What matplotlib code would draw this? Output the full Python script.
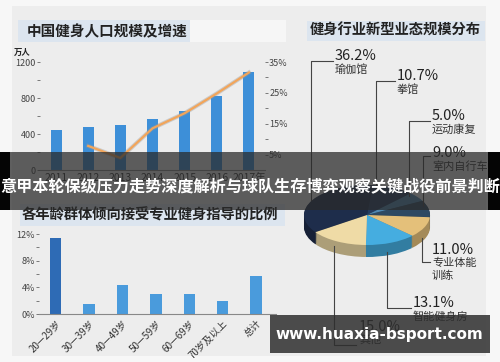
import numpy as np
import matplotlib
matplotlib.use('Agg')
import matplotlib.pyplot as plt
from matplotlib.patches import Rectangle

plt.rcParams['font.family'] = ['Noto Sans CJK SC', 'DejaVu Sans']

W, H = 500, 362

# top-left: fitness population and growth
years = ['2011', '2012', '2013', '2014', '2015', '2016', '2017年']
pop = [444, 478, 496, 563, 659, 819, 1089]
growth_years = [1, 2, 3, 4, 5, 6]
growth = [7.8, 3.9, 13.5, 18.4, 24.8, 31.6]

# right: new business formats
fmt_names = ['瑜伽馆', '拳馆', '运动康复', '室内自行车', '专业体能\n训练', '智能健身房', '其他']
fmt_share = [36.2, 10.7, 5.0, 9.0, 11.0, 13.1, 15.0]
fmt_colors = ['#1e2d4b', '#243d60', '#4f88b2', '#2e4962', '#e4c07a', '#45ade0', '#efdba6']

# bottom-left: share accepting professional guidance
ages = ['20—29岁', '30—39岁', '40—49岁', '50—59岁', '60—69岁', '70岁及以上', '总计']
ratio = [11.4, 1.5, 4.3, 2.95, 2.95, 1.9, 5.7]

banner = '意甲本轮保级压力走势深度解析与球队生存博弈观察关键战役前景判断'
watermark = 'www.huaxia-bsport.com'


def box(x0, y0, x1, y1):
    return [x0 / W, 1 - y1 / H, (x1 - x0) / W, (y1 - y0) / H]


fig = plt.figure(figsize=(5, 3.62), dpi=100)
fig.patch.set_facecolor('#f7f7f7')

bg = fig.add_axes([0, 0, 1, 1], zorder=-5)
bg.set_xlim(0, W)
bg.set_ylim(H, 0)
bg.axis('off')
bg.add_patch(Rectangle((12, 6), 474, 350, color='#ededed', lw=0))
bg.add_patch(Rectangle((18, 20), 268, 22, color='#f6f6f6', lw=0))
bg.add_patch(Rectangle((18, 20), 172, 22, color='#dce5ef', lw=0))
bg.add_patch(Rectangle((307, 21), 178, 20, color='#dce5ef', lw=0))
bg.add_patch(Rectangle((20, 204), 265, 22, color='#dce5ef', lw=0))
bg.text(27, 31, '中国健身人口规模及增速', fontsize=10.5, fontweight='bold',
        color='#222222', va='center')
bg.text(310, 31, '健身行业新型业态规模分布', fontsize=10.3, fontweight='bold',
        color='#222222', va='center')
bg.text(22, 215, '各年龄群体倾向接受专业健身指导的比例', fontsize=10.3,
        fontweight='bold', color='#222222', va='center')
bg.text(14, 52, '万人', fontsize=6, fontweight='bold', color='#222222', va='center')

# --- top-left chart
ax1 = fig.add_axes(box(40, 62, 265, 170))
ax1.patch.set_alpha(0)
ax1.bar(range(len(pop)), pop, width=0.34, color='#3d8fd8')
ax1.set_xlim(-0.5, 6.5)
ax1.set_ylim(0, 1200)
ax1.set_yticks([0, 400, 800, 1200])
ax1.set_yticks([200, 600, 1000], minor=True)
ax1.set_xticks(range(len(years)))
ax1.set_xticklabels(years)
ax1.tick_params(axis='y', which='both', length=2, width=0.6, color='#666666',
                labelsize=6.5, labelcolor='#444444', pad=1)
ax1.tick_params(axis='x', length=0, labelsize=7.5, labelcolor='#333333', pad=2)
for s in ['top', 'right', 'left']:
    ax1.spines[s].set_visible(False)
ax1.spines['bottom'].set_color('#888888')

ax2 = ax1.twinx()
ax2.plot(growth_years, growth, color='#999999', lw=3, alpha=0.4)
ax2.plot(growth_years, growth, color='#f2a55a', lw=1.6)
ax2.set_ylim(0, 35)
ax2.set_yticks([5, 15, 25, 35])
ax2.set_yticklabels(['5%', '15%', '25%', '35%'])
ax2.set_yticks([10, 20, 30], minor=True)
ax2.tick_params(axis='y', which='both', length=2, width=0.6, color='#666666',
                labelsize=6.5, labelcolor='#444444', pad=1)
for s in ax2.spines.values():
    s.set_visible(False)

# --- bottom-left chart
ax3 = fig.add_axes(box(39, 234, 276, 314))
ax3.patch.set_alpha(0)
ax3.bar(range(len(ratio)), ratio, width=0.34,
        color=['#2e6bb5'] + ['#4a9bdc'] * (len(ratio) - 1))
ax3.set_xlim(-0.5, 6.6)
ax3.set_ylim(0, 12)
ax3.set_yticks([0, 4, 8, 12])
ax3.set_yticklabels(['0%', '4%', '8%', '12%'])
ax3.set_yticks([2, 6, 10], minor=True)
ax3.set_xticks(range(len(ages)))
ax3.set_xticklabels(ages, rotation=45, ha='right', rotation_mode='anchor')
ax3.tick_params(axis='y', which='both', length=2, width=0.6, color='#666666',
                labelsize=6.5, labelcolor='#444444', pad=1)
ax3.tick_params(axis='x', length=0, labelsize=7, labelcolor='#333333', pad=3)
for s in ['top', 'right', 'left']:
    ax3.spines[s].set_visible(False)
ax3.spines['bottom'].set_color('#888888')

# --- pseudo 3d pie
axp = fig.add_axes(box(299, 180, 435, 264))
depth = 0.4
side = [tuple(np.array(matplotlib.colors.to_rgb(c)) * 0.72) for c in fmt_colors]
for dy in np.linspace(depth, 0.02, 12):
    axp.pie(fmt_share, colors=side, center=(0, -dy), startangle=215,
            counterclock=False, wedgeprops=dict(linewidth=0))
axp.pie(fmt_share, colors=fmt_colors, center=(0, 0), startangle=215,
        counterclock=False, wedgeprops=dict(linewidth=0))
axp.set_aspect('auto')
axp.set_xlim(-68 / 63, 68 / 63)
axp.set_ylim(-49 / 30, 35 / 30)
axp.axis('off')

# --- leaders, labels, overlays
ov = fig.add_axes([0, 0, 1, 1], zorder=10)
ov.set_xlim(0, W)
ov.set_ylim(H, 0)
ov.axis('off')

leaders = [
    [(333, 61), (311, 61), (311, 200)],
    [(395, 81), (376, 81), (376, 192)],
    [(430, 121), (409, 121), (409, 196)],
    [(430, 156), (423, 156), (423, 206)],
    [(422, 238), (422, 262), (430, 262)],
    [(387, 252), (387, 308), (411, 308)],
    [(334, 246), (334, 345), (356, 345)],
]
label_pos = [(335, 56), (397, 76), (432, 116), (432, 153), (432, 250),
             (413, 303), (359, 327)]
for pts, (lx, ly), share, name in zip(leaders, label_pos, fmt_share, fmt_names):
    xs, ys = zip(*pts)
    ov.plot(xs, ys, color='#444444', lw=0.8)
    ov.text(lx, ly, '%.1f%%' % share, fontsize=10.5, color='#222222',
            va='center', ha='left')
    ov.text(lx, ly + 8, name, fontsize=8, color='#333333', va='top', ha='left',
            linespacing=1.3)

ov.add_patch(Rectangle((10, 152), 478, 58, color='#2a2a2a', alpha=0.74, lw=0, zorder=20))
ov.add_patch(Rectangle((0, 152), 10, 58, color='#050505', lw=0, zorder=20))
ov.add_patch(Rectangle((488, 152), 12, 58, color='#050505', lw=0, zorder=20))
ov.text(250, 186, banner, fontsize=11.6, fontweight='bold', color='white',
        ha='center', va='center', zorder=21)

ov.add_patch(Rectangle((270, 315), 220, 38, color='#2e2e2e', alpha=0.85, lw=0, zorder=20))
ov.text(379, 334, watermark, fontsize=11, fontweight='bold', color='white',
        family='DejaVu Sans', ha='center', va='center', zorder=21)

fig.savefig('out.png', dpi=100, facecolor=fig.get_facecolor())
